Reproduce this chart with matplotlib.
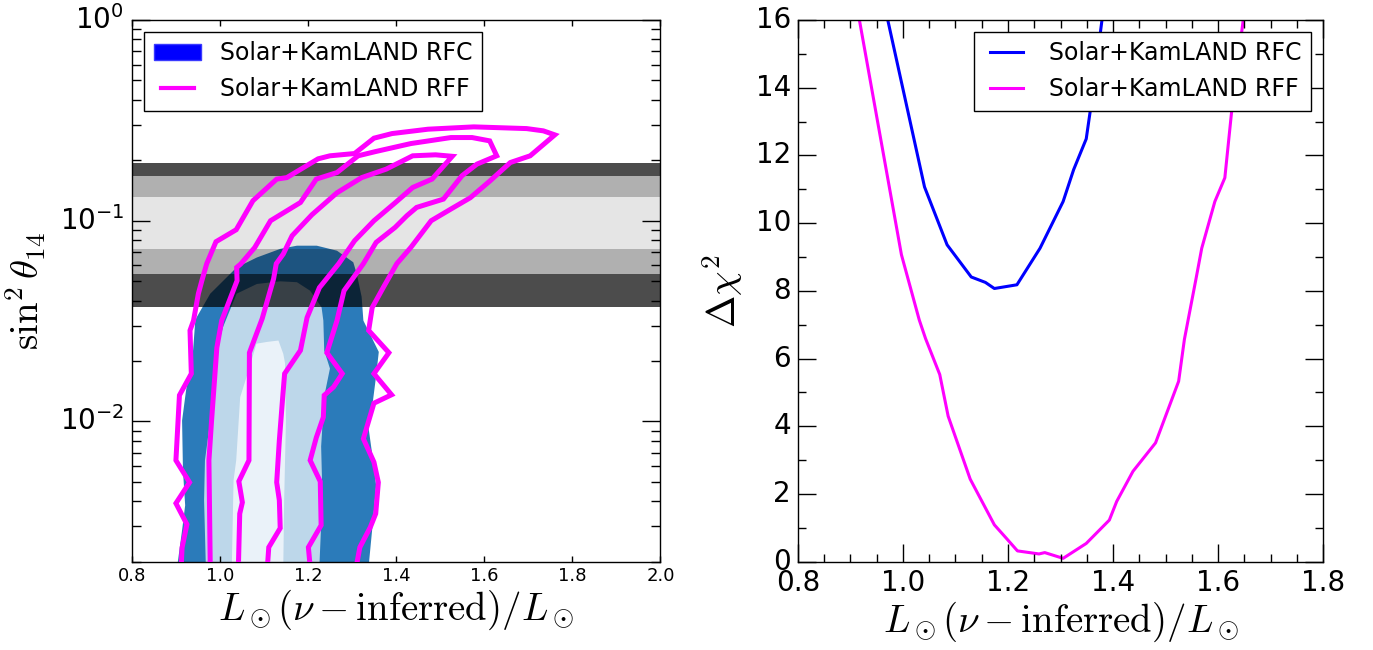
import numpy as np
import matplotlib
matplotlib.use("Agg")
import matplotlib.pyplot as plt
from matplotlib.ticker import MultipleLocator, FixedLocator, LogLocator, NullFormatter, NullLocator
from matplotlib.patches import Patch
from matplotlib.lines import Line2D

plt.style.use("classic")
plt.rcParams.update({
    "font.family": "DejaVu Sans",
    "mathtext.fontset": "cm",
    "figure.facecolor": "white",
    "savefig.facecolor": "white",
    "legend.numpoints": 2,
})

LABEL_FS = 28
TICK_FS = 20
SMALL_TICK_FS = 13
LEGEND_FS = 17

LABEL_RFC = "Solar+KamLAND RFC"
LABEL_RFF = "Solar+KamLAND RFF"
XLABEL = r"$L_\odot(\nu-\mathrm{inferred})/L_\odot$"

# ---- left panel: allowed regions in (L ratio, sin^2 theta_14) ----
# RFC filled regions (outer -> inner)
RFC_3S_X = [0.902, 0.913, 0.920, 0.915, 0.913, 0.922, 0.938, 0.943, 0.946, 0.977, 1.037, 1.083, 1.136, 1.174,
            1.219, 1.265, 1.302, 1.310, 1.321, 1.325, 1.360, 1.354, 1.347, 1.336, 1.347, 1.354, 1.347, 1.337]
RFC_3S_Y = [0.0019, 0.00287, 0.00382, 0.00570, 0.0101, 0.01426, 0.0226, 0.0318, 0.0330, 0.0433, 0.0585, 0.0656,
            0.0724, 0.0751, 0.0751, 0.0709, 0.0621, 0.0543, 0.0418, 0.0318, 0.0222, 0.0169, 0.0128, 0.00955,
            0.0064, 0.0048, 0.00322, 0.0019]

RFC_2S_X = [0.967, 0.963, 0.965, 0.977, 0.990, 1.006, 1.037, 1.083, 1.136, 1.174, 1.204, 1.230, 1.234, 1.236,
            1.249, 1.236, 1.229, 1.231, 1.229, 1.225]
RFC_2S_Y = [0.0019, 0.00405, 0.0064, 0.0101, 0.0218, 0.0295, 0.0433, 0.0484, 0.0499, 0.0494, 0.0448, 0.0370,
            0.0318, 0.0226, 0.01835, 0.01332, 0.00751, 0.00509, 0.00304, 0.0019]

RFC_1S_X = [1.026, 1.030, 1.036, 1.045, 1.064, 1.082, 1.106, 1.132, 1.143, 1.147, 1.149, 1.145, 1.143]
RFC_1S_Y = [0.0019, 0.00509, 0.0064, 0.0132, 0.0179, 0.0244, 0.0249, 0.0253, 0.0217, 0.0195, 0.0101, 0.00405,
            0.0019]

# RFF contour lines (outer -> inner)
RFF_3S_X = [0.911, 0.913, 0.924, 0.899, 0.930, 0.899, 0.907, 0.934, 0.931, 0.939, 0.950, 0.958, 0.969, 0.990,
            1.036, 1.074, 1.128, 1.151, 1.222, 1.249, 1.305, 1.349, 1.390, 1.472, 1.576, 1.696, 1.734, 1.760,
            1.704, 1.659, 1.613, 1.568, 1.527, 1.479, 1.433, 1.401, 1.370, 1.345, 1.337, 1.383, 1.349, 1.389,
            1.349, 1.325, 1.349, 1.359, 1.353, 1.341, 1.317, 1.309]
RFF_3S_Y = [0.0019, 0.00235, 0.00307, 0.00391, 0.00497, 0.0064, 0.0135, 0.0173, 0.0284, 0.0318, 0.0433, 0.0503,
            0.0611, 0.0786, 0.0902, 0.1258, 0.1612, 0.1640, 0.2034, 0.2106, 0.2162, 0.2578, 0.2718, 0.2858,
            0.2935, 0.2878, 0.2804, 0.2678, 0.2106, 0.1950, 0.1581, 0.1302, 0.1154, 0.1000, 0.0737, 0.0611,
            0.0464, 0.0369, 0.0284, 0.0220, 0.0173, 0.01358, 0.01233, 0.00820, 0.00627, 0.00497, 0.00347,
            0.00298, 0.00236, 0.0019]

RFF_2S_X = [0.977, 0.974, 0.980, 0.992, 1.003, 1.038, 1.037, 1.046, 1.078, 1.114, 1.182, 1.218, 1.265, 1.313,
            1.353, 1.433, 1.524, 1.572, 1.612, 1.628, 1.583, 1.549, 1.507, 1.446, 1.424, 1.397, 1.354, 1.325,
            1.281, 1.265, 1.242, 1.277, 1.257, 1.236, 1.234, 1.218, 1.204, 1.227, 1.229, 1.200, 1.204]
RFF_2S_Y = [0.0019, 0.0064, 0.0101, 0.0233, 0.0318, 0.0503, 0.0585, 0.0608, 0.0735, 0.1000, 0.1233, 0.1612,
            0.1738, 0.2106, 0.2212, 0.2424, 0.2597, 0.2597, 0.2500, 0.2106, 0.1914, 0.1675, 0.1282, 0.1165,
            0.1060, 0.0926, 0.0780, 0.0611, 0.0448, 0.0318, 0.0220, 0.0173, 0.01482, 0.0135, 0.01050, 0.00831,
            0.0064, 0.00502, 0.00304, 0.00236, 0.0019]

RFF_1S_X = [1.041, 1.044, 1.050, 1.042, 1.065, 1.066, 1.095, 1.121, 1.127, 1.143, 1.163, 1.208, 1.265, 1.321,
            1.377, 1.437, 1.489, 1.527, 1.481, 1.437, 1.398, 1.349, 1.305, 1.269, 1.225, 1.197, 1.182, 1.146,
            1.142, 1.134, 1.128, 1.134, 1.136, 1.110, 1.107]
RFF_1S_Y = [0.0019, 0.00347, 0.00395, 0.00503, 0.0064, 0.0220, 0.0325, 0.0514, 0.0611, 0.0683, 0.0842, 0.1071,
            0.1378, 0.1640, 0.1808, 0.2106, 0.2130, 0.2094, 0.1612, 0.1464, 0.1233, 0.1000, 0.0795, 0.0611,
            0.0464, 0.0329, 0.0226, 0.0173, 0.0135, 0.00804, 0.00497, 0.00405, 0.00294, 0.00236, 0.0019]

# horizontal sin^2 theta_14 bands: edges and shade
BAND_LO = [0.037, 0.0543, 0.0723, 0.131, 0.167]
BAND_HI = [0.0543, 0.0723, 0.131, 0.167, 0.193]
BAND_ALPHA = [0.70, 0.31, 0.10, 0.31, 0.70]

# ---- right panel: delta chi^2 profiles ----
RFC_CHI_X = [0.971, 1.041, 1.084, 1.130, 1.157, 1.174, 1.217, 1.261, 1.305, 1.325, 1.349, 1.358, 1.379]
RFC_CHI_Y = [16.0, 11.07, 9.36, 8.41, 8.25, 8.07, 8.18, 9.26, 10.64, 11.58, 12.49, 13.46, 16.0]

RFF_CHI_X = [0.917, 0.997, 1.031, 1.043, 1.070, 1.086, 1.128, 1.174, 1.197, 1.218, 1.259, 1.270, 1.305,
             1.349, 1.393, 1.407, 1.438, 1.481, 1.525, 1.536, 1.558, 1.569, 1.594, 1.613, 1.627, 1.648]
RFF_CHI_Y = [16.0, 9.07, 7.14, 6.59, 5.53, 4.30, 2.44, 1.09, 0.69, 0.32, 0.23, 0.27, 0.10,
             0.54, 1.23, 1.78, 2.67, 3.51, 5.33, 6.57, 8.35, 9.26, 10.64, 11.34, 13.46, 16.0]

LEFT_XTICKS = [0.8, 1.0, 1.2, 1.4, 1.6, 1.8, 2.0]
LEFT_YTICKS = [0.01, 0.1, 1.0]
LEFT_YTICK_LABELS = [r"$\mathregular{10^{-2}}$", r"$\mathregular{10^{-1}}$", r"$\mathregular{10^{0}}$"]

fig = plt.figure(figsize=(13.73, 6.5), dpi=100)
ax1 = fig.add_axes([0.0964, 0.1358, 0.3846, 0.8334])
ax2 = fig.add_axes([0.5812, 0.1358, 0.3824, 0.8334])

# left panel
blues = ["#2b7bba", "#bdd7ea", "#eaf2f9"]
for (xs, ys), c in zip([(RFC_3S_X, RFC_3S_Y), (RFC_2S_X, RFC_2S_Y), (RFC_1S_X, RFC_1S_Y)], blues):
    ax1.fill(xs, ys, color=c, lw=0, zorder=1)

for lo, hi, a in zip(BAND_LO, BAND_HI, BAND_ALPHA):
    ax1.axhspan(lo, hi, color="black", alpha=a, lw=0, zorder=2)

for xs, ys in [(RFF_3S_X, RFF_3S_Y), (RFF_2S_X, RFF_2S_Y), (RFF_1S_X, RFF_1S_Y)]:
    ax1.plot(xs, ys, color="magenta", lw=3.6, zorder=3, solid_joinstyle="miter")

ax1.set_yscale("log")
ax1.set_xlim(0.8, 2.0)
ax1.set_ylim(0.002, 1.0)
ax1.xaxis.set_major_locator(FixedLocator(LEFT_XTICKS))
ax1.set_xticklabels(["%.1f" % v for v in LEFT_XTICKS])
ax1.xaxis.set_minor_locator(NullLocator())
ax1.yaxis.set_major_locator(FixedLocator(LEFT_YTICKS))
ax1.set_yticklabels(LEFT_YTICK_LABELS)
ax1.yaxis.set_minor_locator(LogLocator(base=10, subs=np.arange(2, 10)))
ax1.yaxis.set_minor_formatter(NullFormatter())

ax1.tick_params(axis="x", which="major", direction="in", length=4, width=1,
                labelsize=SMALL_TICK_FS, pad=4, top=True, bottom=True)
ax1.tick_params(axis="y", which="major", direction="in", length=13, width=1,
                labelsize=TICK_FS, pad=6, left=True, right=True)
ax1.tick_params(axis="y", which="minor", direction="in", length=6.5, width=1, left=True, right=True)

ax1.set_xlabel(XLABEL, fontsize=LABEL_FS, labelpad=2)
ax1.set_ylabel(r"$\sin^2\theta_{14}$", fontsize=LABEL_FS, labelpad=8)

handles1 = [Patch(facecolor="blue", edgecolor="#3a3aff", lw=1, label=LABEL_RFC),
            Line2D([], [], color="magenta", lw=3, label=LABEL_RFF)]
leg1 = ax1.legend(handles=handles1, loc="upper left", fontsize=LEGEND_FS, numpoints=2,
                  fancybox=False, frameon=True)
leg1.get_frame().set_edgecolor("black")
leg1.set_zorder(5)

# right panel
ax2.plot(RFC_CHI_X, RFC_CHI_Y, color="blue", lw=2.2, label=LABEL_RFC)
ax2.plot(RFF_CHI_X, RFF_CHI_Y, color="magenta", lw=2.2, label=LABEL_RFF)
ax2.set_xlim(0.8, 1.8)
ax2.set_ylim(0, 16)
ax2.xaxis.set_major_locator(MultipleLocator(0.2))
ax2.xaxis.set_minor_locator(MultipleLocator(0.05))
ax2.yaxis.set_major_locator(MultipleLocator(2))
ax2.yaxis.set_minor_locator(MultipleLocator(1))
ax2.xaxis.set_major_formatter(plt.FormatStrFormatter("%.1f"))
ax2.tick_params(which="major", direction="in", length=13, width=1, labelsize=TICK_FS, pad=5)
ax2.tick_params(which="minor", direction="in", length=6, width=1)

ax2.set_xlabel(XLABEL, fontsize=LABEL_FS, labelpad=2)
ax2.set_ylabel(r"$\Delta\chi^2$", fontsize=LABEL_FS, labelpad=8)

leg2 = ax2.legend(loc="upper right", fontsize=LEGEND_FS, numpoints=2, fancybox=False, frameon=True)
leg2.get_frame().set_edgecolor("black")

fig.savefig("out.png", dpi=100)
